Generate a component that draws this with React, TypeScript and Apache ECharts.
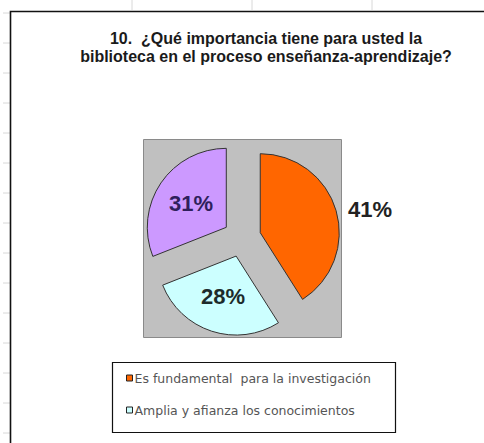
import React, { useEffect, useRef } from 'react';
import * as echarts from 'echarts';

const categories = [
  'Es fundamental  para la investigación',
  'Amplia y afianza los conocimientos',
  'Otra respuesta',
];
const values = [41, 28, 31];
const legendShown = [categories[0], categories[1]];
const titleText = '10.  ¿Qué importancia tiene para usted la\nbiblioteca en el proceso enseñanza-aprendizaje?';

const SLICE_COLORS = ['#FF6600', '#CCFFFF', '#CC99FF'];
const LABEL_COLORS = ['#222222', '#1c2b2b', '#2e1f5c'];
const LABEL_POS = ['outside', 'inside', 'inside'];

export default function App() {
  const ref = useRef<HTMLDivElement>(null);

  useEffect(() => {
    if (!ref.current) return;
    const chart = echarts.init(ref.current, null, { renderer: 'svg' });

    const deco: any[] = [];
    // spreadsheet row ticks on the left
    for (let k = 0; k < 15; k++) {
      const y = 13 + k * 30;
      deco.push({ type: 'line', z: 0, shape: { x1: 3, y1: y, x2: 10, y2: y }, style: { stroke: '#d8d8d8', lineWidth: 1 } });
    }
    [132, 252, 372].forEach((x) => {
      deco.push({ type: 'line', z: 0, shape: { x1: x, y1: 0, x2: x, y2: 10 }, style: { stroke: '#d8d8d8', lineWidth: 1 } });
    });

    const option: any = {
      animation: false,
      backgroundColor: '#ffffff',
      graphic: {
        elements: [
          ...deco,
          // chart frame
          { type: 'polyline', z: 1, shape: { points: [[10.5, 443], [10.5, 11.5], [484, 11.5]] }, style: { stroke: '#111', lineWidth: 1.6, fill: 'none' } },
          // plot area
          { type: 'rect', z: 0, shape: { x: 143.5, y: 139.5, width: 198, height: 198 }, style: { fill: '#C0C0C0', stroke: '#8a8a8a', lineWidth: 1 } },
          // legend box
          { type: 'rect', z: 1, shape: { x: 112.5, y: 362.5, width: 283, height: 70 }, style: { fill: 'none', stroke: '#111', lineWidth: 1.2 } },
          // title
          {
            type: 'text', z: 5, x: 266, y: 29,
            style: {
              text: titleText, textAlign: 'center', textVerticalAlign: 'top',
              font: 'bold 16px "Liberation Sans", Arial, sans-serif', lineHeight: 18, fill: '#1a1a1a',
            },
          },
        ],
      },
      legend: {
        data: legendShown,
        orient: 'vertical',
        left: 121,
        top: 366,
        itemWidth: 6,
        itemHeight: 6,
        itemGap: 18,
        icon: 'rect',
        itemStyle: { borderColor: '#222', borderWidth: 1 },
        selectedMode: false,
        textStyle: { fontFamily: '"DejaVu Sans", sans-serif', fontSize: 12.5, color: '#555', lineHeight: 14, padding: [0, 0, 0, -3] },
      },
      series: [
        {
          type: 'pie',
          center: [242, 238],
          radius: 79,
          startAngle: 90,
          clockwise: true,
          selectedMode: 'multiple',
          selectedOffset: 19,
          avoidLabelOverlap: false,
          itemStyle: { borderColor: '#333', borderWidth: 1 },
          labelLine: { show: false, length: 4, length2: 3 },
          label: { fontFamily: '"Liberation Sans", Arial, sans-serif', fontWeight: 'bold', fontSize: 22, formatter: '{c}%' },
          emphasis: { disabled: true },
          data: categories.map((name, i) => ({
            name,
            value: values[i],
            selected: true,
            itemStyle: { color: SLICE_COLORS[i] },
            label: { position: LABEL_POS[i], color: LABEL_COLORS[i] },
          })),
        },
      ],
    };

    chart.setOption(option);
    return () => chart.dispose();
  }, []);

  return (
    <div
      ref={ref}
      style={{ position: 'fixed', left: 0, top: 0, width: 484, height: 443, background: '#fff' }}
    />
  );
}
